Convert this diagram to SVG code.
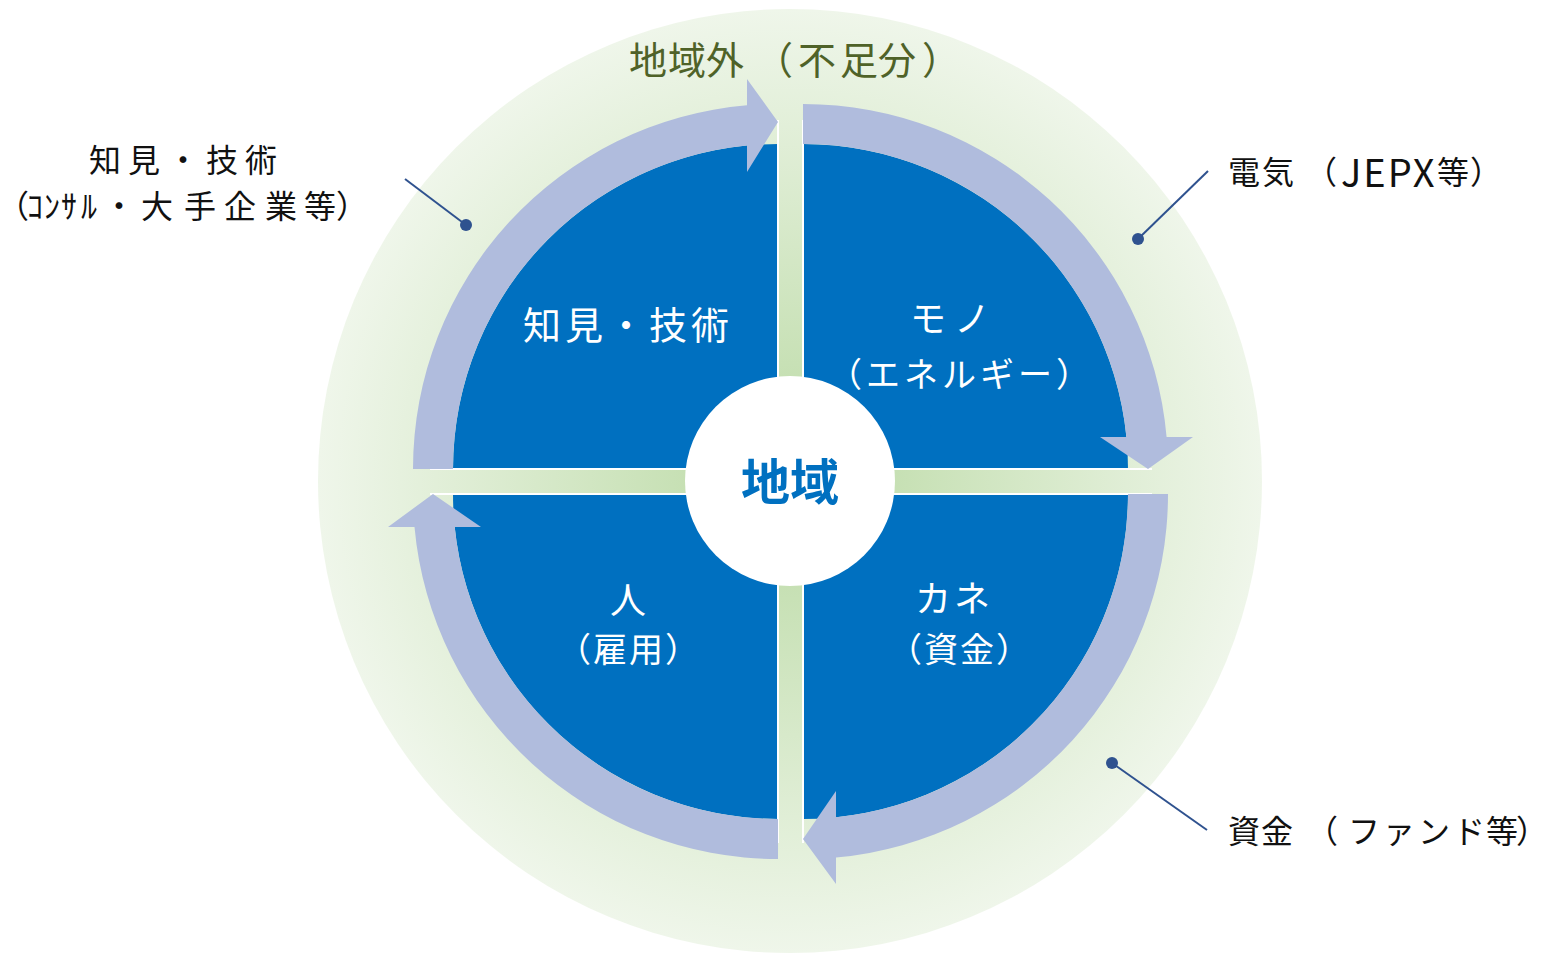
<svg xmlns="http://www.w3.org/2000/svg" width="1549" height="953" viewBox="0 0 1549 953">
<defs>
<radialGradient id="bg" cx="790" cy="481" r="472" gradientUnits="userSpaceOnUse">
<stop offset="0" stop-color="#bcdaa6"/>
<stop offset="0.25" stop-color="#c8e1b6"/>
<stop offset="1" stop-color="#eff6ea"/>
</radialGradient>
<style>
.q{fill:#0070c0}
.arc{fill:#b0bcdd}
.gap{stroke:#ffffff;stroke-width:2;fill:none}
.lead{stroke:#2f528f;stroke-width:2;fill:none}
.dot{fill:#2f528f}
text{font-family:"Noto Sans CJK JP","Noto Sans",sans-serif;dominant-baseline:central}
.w{fill:#ffffff}
.k{fill:#111111;font-size:32px}
.lat{font-size:38px}
</style>
</defs>
<rect width="1549" height="953" fill="#ffffff"/>
<g id="outer">
<circle cx="790" cy="481" r="472" fill="url(#bg)"/>
<text y="57" fill="#4f6228" font-size="38"><tspan x="629">地</tspan><tspan x="668">域</tspan><tspan x="706">外</tspan><tspan x="755">（</tspan><tspan x="798">不</tspan><tspan x="840">足</tspan><tspan x="878">分</tspan><tspan x="922">）</tspan></text>
</g>
<g id="quadrant-tl"><path class="q" d="M778,469 L453,469 A325,325 0 0 1 778,144 Z"/>
<text class="w" x="523" y="322" font-size="38" letter-spacing="4">知見・技術</text></g>
<g id="quadrant-tr"><path class="q" d="M803,469 L803,144 A325,325 0 0 1 1128,469 Z"/>
<text class="w" x="910" y="316" font-size="36" letter-spacing="8">モノ</text>
<text class="w" x="828" y="372" font-size="34" letter-spacing="4">（エネルギー）</text></g>
<g id="quadrant-br"><path class="q" d="M803,494 L1128,494 A325,325 0 0 1 803,819 Z"/>
<text class="w" x="915" y="596" font-size="36" letter-spacing="3">カネ</text>
<text class="w" x="888" y="647" font-size="34" letter-spacing="2">（資金）</text></g>
<g id="quadrant-bl"><path class="q" d="M778,494 L778,819 A325,325 0 0 1 453,494 Z"/>
<text class="w" x="628" y="598" font-size="36" text-anchor="middle">人</text>
<text class="w" x="557" y="647" font-size="34" letter-spacing="2">（雇用）</text></g>
<g id="connectors">
<line class="gap" x1="778" y1="120" x2="778" y2="843"/>
<line class="gap" x1="803" y1="120" x2="803" y2="843"/>
<line class="gap" x1="430" y1="469" x2="1152" y2="469"/>
<line class="gap" x1="430" y1="494" x2="1152" y2="494"/>
<path class="arc" d="M413,469 A365,365 0 0 1 747,105.3 L747,79 L778,122 L747,172 L747,145.5 A325,325 0 0 0 453,469 Z"/>
<path class="arc" d="M803,104 A365,365 0 0 1 1166.6,437 L1193,437 L1148,469 L1100,437 L1126.4,437 A325,325 0 0 0 803,144 Z"/>
<path class="arc" d="M1168,494 A365,365 0 0 1 836,857.5 L836,884 L803,839 L836,791 L836,817.3 A325,325 0 0 0 1128,494 Z"/>
<path class="arc" d="M778,859 A365,365 0 0 1 414.5,527 L388,527 L433,494 L481,527 L454.7,527 A325,325 0 0 0 778,819 Z"/>
<line class="lead" x1="405" y1="179" x2="466" y2="225"/>
<circle class="dot" cx="466" cy="225" r="6"/>
<line class="lead" x1="1208" y1="171" x2="1138" y2="239"/>
<circle class="dot" cx="1138" cy="239" r="6"/>
<line class="lead" x1="1112" y1="763" x2="1207" y2="830"/>
<circle class="dot" cx="1112" cy="763" r="6"/>
</g>
<g id="center">
<circle cx="790" cy="481" r="105" fill="#ffffff"/>
<text x="790" y="478" font-size="49" font-weight="bold" fill="#0070c0" text-anchor="middle">地域</text>
</g>
<g id="label-knowledge">
<text class="k" x="89" y="158" letter-spacing="7">知見・技術</text>
<text class="k" y="204" font-size="34"><tspan x="-3">（</tspan><tspan x="27">ｺ</tspan><tspan x="44">ﾝ</tspan><tspan x="61">ｻ</tspan><tspan x="81">ﾙ</tspan><tspan x="103">・</tspan><tspan x="141">大</tspan><tspan x="184">手</tspan><tspan x="224">企</tspan><tspan x="265">業</tspan><tspan x="304">等</tspan><tspan x="336">）</tspan></text>
</g>
<g id="label-electric">
<text class="k" y="170" font-size="33"><tspan x="1228">電</tspan><tspan x="1262">気</tspan><tspan x="1305">（</tspan><tspan class="lat" x="1341" letter-spacing="2">JEPX</tspan><tspan x="1437" letter-spacing="0">等</tspan><tspan x="1470">）</tspan></text>
</g>
<g id="label-fund">
<text class="k" y="829" font-size="33"><tspan x="1228">資</tspan><tspan x="1261">金</tspan><tspan x="1306">（</tspan><tspan x="1348">フ</tspan><tspan x="1383">ァ</tspan><tspan x="1418">ン</tspan><tspan x="1453">ド</tspan><tspan x="1486">等</tspan><tspan x="1516" font-size="32">）</tspan></text>
</g>
</svg>
